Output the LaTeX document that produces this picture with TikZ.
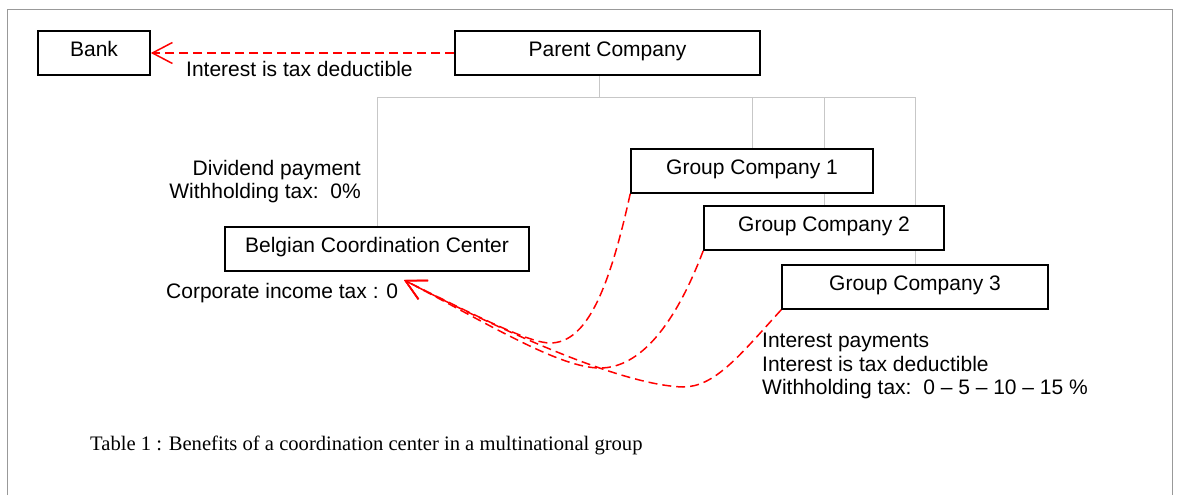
\documentclass[tikz,border=0pt]{standalone}
\usepackage{fontspec}
\setmainfont{Liberation Sans}
\newfontfamily\captionfont{Liberation Serif}
\usetikzlibrary{arrows.meta, backgrounds}

\begin{document}
\begin{tikzpicture}[x=1pt, y=-1pt,
		box/.style={draw, fill=white, line width=1.6pt, inner sep=0pt, minimum height=44pt, text height=15pt, text depth=8pt, font=\fontsize{21}{24}\selectfont},
		lbl/.style={inner sep=0pt, font=\fontsize{21}{23.5}\selectfont},
		tree/.style={draw=black!22, line width=1pt},
		pay/.style={red, line width=1.5pt, dash pattern=on 9pt off 5pt, -{Straight Barb[length=20pt, width=21pt]}}]
			\useasboundingbox (0,0) rectangle (1177,495);
			\draw[black!40, line width=1pt] (7.5,495) |- (1172.5,9.5) -- (1172.5,495);
			
			\node[box, minimum width=112pt] (bank) at (94,53) {Bank};
			\node[box, minimum width=305pt] (parent) at (607.5,53) {Parent Company};
			\node[box, minimum width=304pt] (bcc) at (377,249) {Belgian Coordination Center};
			\node[box, minimum width=242pt] (gc1) at (752,171) {Group Company 1};
			\node[box, minimum width=240pt] (gc2) at (824,228) {Group Company 2};
			\node[box, minimum width=266pt] (gc3) at (915,287) {Group Company 3};
			
			\node[lbl, anchor=base west] (deduct) at (186,77) {Interest is tax deductible};
			\node[lbl, anchor=north east, align=right] (dividend) at (361,160) {Dividend payment\\Withholding tax:~~0\%};
			\node[lbl, anchor=base west] (cit) at (166,298) {Corporate income tax : 0};
			\node[lbl, anchor=north west, align=left] (interest) at (762,333) {Interest payments\\Interest is tax deductible\\Withholding tax:~~0 -- 5 -- 10 -- 15 \%};
			\node[inner sep=0pt, anchor=base west, font=\captionfont\fontsize{20.6}{24}\selectfont] (caption) at (90,450) {Table 1 : Benefits of a coordination center in a multinational group};
			
			\coordinate (bus) at (599,97);
			\coordinate (citarrow) at (404,280);
			
			\begin{scope}[on background layer]
				\draw[tree] (bus |- parent.south) -- (bus);
				\draw[tree] (bcc.north) |- (gc3.north |- bus) -- (gc3.north);
				\draw[tree] (gc1.north) -- (gc1.north |- bus);
				\draw[tree] (gc2.north) -- (gc2.north |- bus);
			\end{scope}
			
			\draw[pay] (parent.west) -- (bank.east);
			\draw[pay] (gc1.south west) .. controls (608,295) and (585,343) .. (550,343) .. controls (530,343) and (480,318) .. (citarrow);
			\draw[pay] (gc2.south west) .. controls (675,325) and (640,368) .. (600,368) .. controls (560,368) and (490,325) .. (citarrow);
			\draw[pay] (gc3.south west) .. controls (740,355) and (715,387) .. (683,387) .. controls (620,385) and (500,330) .. (citarrow);
		\end{tikzpicture}
\end{document}
